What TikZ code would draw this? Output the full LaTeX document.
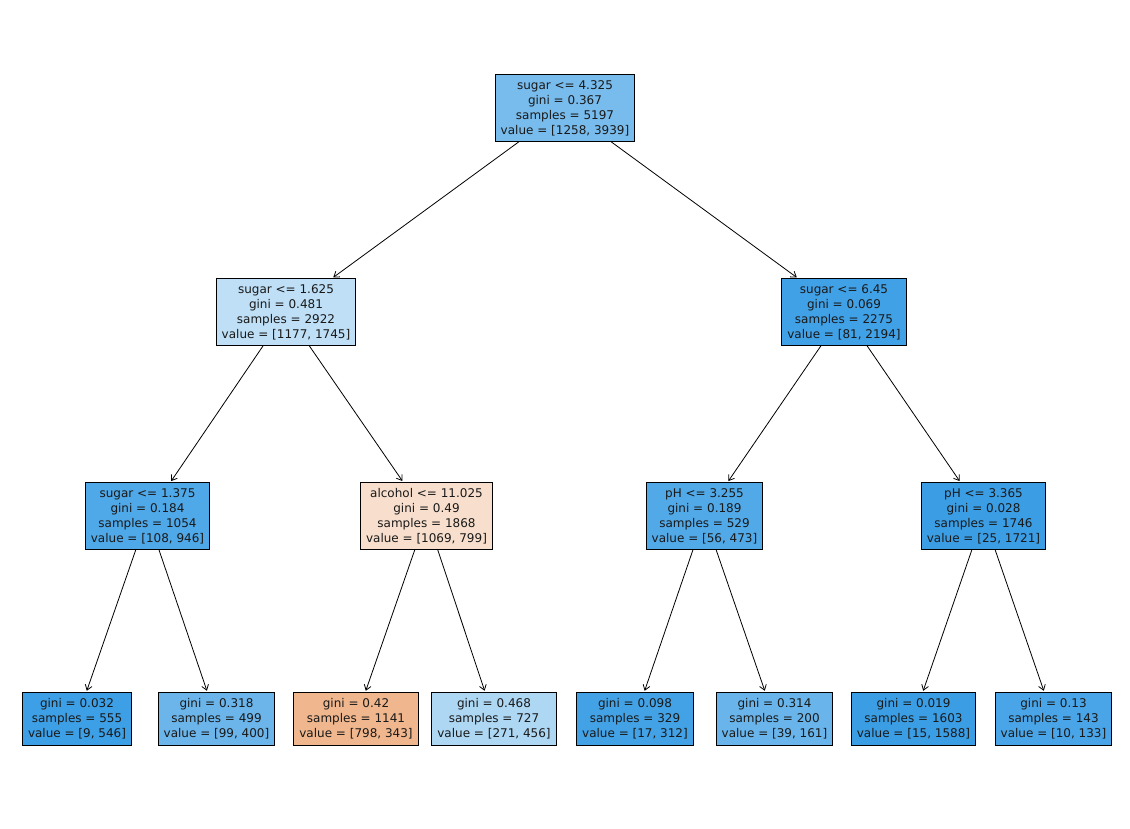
\documentclass[tikz,border=0pt]{standalone}
\usepackage{fontspec}
\setmainfont{DejaVu Sans}
\usetikzlibrary{arrows.meta}
\definecolor{cblue}{RGB}{57,157,229}
\definecolor{corange}{RGB}{229,129,57}
\tikzset{
  tnode/.style={draw=black, line width=0.9pt, align=center, font=\fontsize{12}{15}\selectfont,
    inner xsep=5.5pt, inner ysep=5.5pt, text=black!90},
  leaf/.style={tnode, inner ysep=6pt},
  edge/.style={draw=black, line width=0.8pt, -{Straight Barb[length=5pt,width=7pt]}, shorten >=1.5pt}
}
\begin{document}
\begin{tikzpicture}[x=1pt,y=-1pt]
\useasboundingbox[fill=white] (0,0) rectangle (1130,829);
\node[tnode, fill=cblue!68] (r) at (565,108) {sugar <= 4.325\\gini = 0.367\\samples = 5197\\value = [1258, 3939]};
\node[tnode, fill=cblue!33] (a) at (286,312) {sugar <= 1.625\\gini = 0.481\\samples = 2922\\value = [1177, 1745]};
\node[tnode, fill=cblue!96] (b) at (844,312) {sugar <= 6.45\\gini = 0.069\\samples = 2275\\value = [81, 2194]};
\node[tnode, fill=cblue!89] (aa) at (147.5,516) {sugar <= 1.375\\gini = 0.184\\samples = 1054\\value = [108, 946]};
\node[tnode, fill=corange!25] (ab) at (426.5,516) {alcohol <= 11.025\\gini = 0.49\\samples = 1868\\value = [1069, 799]};
\node[tnode, fill=cblue!88] (ba) at (704.5,516) {pH <= 3.255\\gini = 0.189\\samples = 529\\value = [56, 473]};
\node[tnode, fill=cblue!99] (bb) at (983.5,516) {pH <= 3.365\\gini = 0.028\\samples = 1746\\value = [25, 1721]};
\node[leaf, fill=cblue!98] (l1) at (77,719) {gini = 0.032\\samples = 555\\value = [9, 546]};
\node[leaf, fill=cblue!75] (l2) at (216.5,719) {gini = 0.318\\samples = 499\\value = [99, 400]};
\node[leaf, fill=corange!57] (l3) at (356,719) {gini = 0.42\\samples = 1141\\value = [798, 343]};
\node[leaf, fill=cblue!41] (l4) at (494,719) {gini = 0.468\\samples = 727\\value = [271, 456]};
\node[leaf, fill=cblue!95] (l5) at (635,719) {gini = 0.098\\samples = 329\\value = [17, 312]};
\node[leaf, fill=cblue!76] (l6) at (774.5,719) {gini = 0.314\\samples = 200\\value = [39, 161]};
\node[leaf, fill=cblue!99] (l7) at (913.5,719) {gini = 0.019\\samples = 1603\\value = [15, 1588]};
\node[leaf, fill=cblue!92] (l8) at (1053.5,719) {gini = 0.13\\samples = 143\\value = [10, 133]};
\draw[edge] (r) -- (a);
\draw[edge] (r) -- (b);
\draw[edge] (a) -- (aa);
\draw[edge] (a) -- (ab);
\draw[edge] (b) -- (ba);
\draw[edge] (b) -- (bb);
\draw[edge] (aa) -- (l1);
\draw[edge] (aa) -- (l2);
\draw[edge] (ab) -- (l3);
\draw[edge] (ab) -- (l4);
\draw[edge] (ba) -- (l5);
\draw[edge] (ba) -- (l6);
\draw[edge] (bb) -- (l7);
\draw[edge] (bb) -- (l8);
\end{tikzpicture}
\end{document}
